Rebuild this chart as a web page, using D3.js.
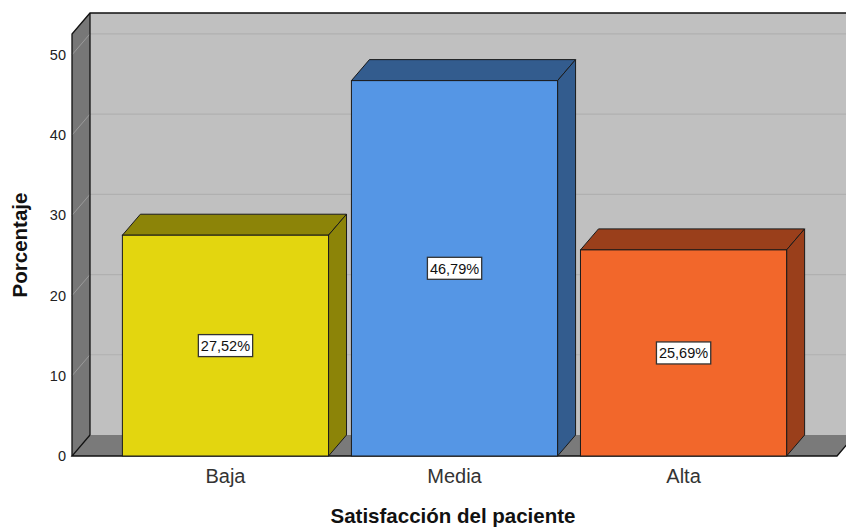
<!DOCTYPE html>
<html>
<head>
<meta charset="utf-8">
<script src="https://cdn.jsdelivr.net/npm/d3@7"></script>
<style>
  html, body { margin: 0; padding: 0; background: #fff; }
  svg { display: block; font-family: "Liberation Sans", Arial, sans-serif; }
</style>
</head>
<body>
<svg id="chart" width="846" height="532"></svg>
<script>
// Satisfacción del paciente — porcentaje por categoría
const categories = ["Baja", "Media", "Alta"];
const percentages = [27.52, 46.79, 25.69];
const valueLabels = ["27,52%", "46,79%", "25,69%"];
const frontColors = ["#e3d60f", "#5596e5", "#f2672b"];
const sideColors = ["#8c8408", "#335c8e", "#9a3f1b"];
const yTicks = [0, 10, 20, 30, 40, 50];

const svg = d3.select("#chart");

// front plane and depth offset of the 3D box
const x0 = 72, x1 = 837, yBase = 456, yTop = 34;
const dx = 18, dy = -21;

const y = d3.scaleLinear().domain([0, 52.6]).range([yBase, yTop]);
const x = d3.scaleBand().domain(categories).range([x0, x1])
  .paddingInner(0.1).paddingOuter(0.22);

const poly = pts => pts.map(p => p.join(",")).join(" ");

// back wall
svg.append("rect")
  .attr("x", x0 + dx).attr("y", yTop + dy)
  .attr("width", x1 - x0 + 10).attr("height", yBase - yTop)
  .attr("fill", "#c0c0c0");

// left wall
svg.append("polygon")
  .attr("points", poly([[x0, yBase], [x0, yTop], [x0 + dx, yTop + dy], [x0 + dx, yBase + dy]]))
  .attr("fill", "#777777");

// floor
svg.append("polygon")
  .attr("points", poly([[x0, yBase], [x1, yBase], [x1 + dx, yBase + dy], [x0 + dx, yBase + dy]]))
  .attr("fill", "#7a7a7a");

// gridlines on back and left walls
const grid = yTicks.filter(t => t > 0);
svg.append("g").selectAll("line.back").data(grid).join("line")
  .attr("x1", x0 + dx).attr("x2", 846)
  .attr("y1", d => y(d) + dy).attr("y2", d => y(d) + dy)
  .attr("stroke", "#b0b0b0").attr("stroke-width", 1.2);
svg.append("g").selectAll("line.side").data(grid).join("line")
  .attr("x1", x0).attr("x2", x0 + dx)
  .attr("y1", d => y(d)).attr("y2", d => y(d) + dy)
  .attr("stroke", "#9a9a9a").attr("stroke-width", 1);

// wall outlines
const edge = svg.append("g").attr("fill", "none").attr("stroke", "#111").attr("stroke-width", 1.3);
edge.append("polyline").attr("points", poly([[x0, yBase], [x0, yTop], [x0 + dx, yTop + dy], [846, yTop + dy]]));
edge.append("line").attr("x1", x0 + dx).attr("x2", x0 + dx).attr("y1", yTop + dy).attr("y2", yBase + dy);
edge.append("polyline").attr("points", poly([[x0 + dx, yBase + dy], [x0, yBase], [x1, yBase], [x1 + dx, yBase + dy]]));

// y axis tick labels
svg.append("g").selectAll("text").data(yTicks).join("text")
  .attr("x", x0 - 6).attr("y", d => y(d)).attr("dy", "0.35em")
  .attr("text-anchor", "end").attr("font-size", 14.5).attr("fill", "#222")
  .text(d => d);

// bars
const bars = svg.append("g").selectAll("g").data(categories).join("g");
bars.each(function (c, i) {
  const g = d3.select(this);
  const bx = x(c), bw = x.bandwidth(), top = y(percentages[i]);
  g.append("polygon")
    .attr("points", poly([[bx, top], [bx + dx, top + dy], [bx + bw + dx, top + dy], [bx + bw, top]]))
    .attr("fill", sideColors[i]).attr("stroke", "#1a1a1a").attr("stroke-width", 1);
  g.append("polygon")
    .attr("points", poly([[bx + bw, top], [bx + bw + dx, top + dy], [bx + bw + dx, yBase + dy], [bx + bw, yBase]]))
    .attr("fill", sideColors[i]).attr("stroke", "#1a1a1a").attr("stroke-width", 1);
  g.append("rect")
    .attr("x", bx).attr("y", top).attr("width", bw).attr("height", yBase - top)
    .attr("fill", frontColors[i]).attr("stroke", "#1a1a1a").attr("stroke-width", 1);

  // value label box in the middle of the bar
  const cy = y(percentages[i] / 2), cx = bx + bw / 2;
  const t = g.append("text")
    .attr("x", cx).attr("y", cy).attr("dy", "0.36em")
    .attr("text-anchor", "middle").attr("font-size", 14.5).attr("fill", "#111")
    .text(valueLabels[i]);
  const bb = t.node().getBBox();
  g.insert("rect", "text")
    .attr("x", bb.x - 2.5).attr("y", cy - 11).attr("width", bb.width + 5).attr("height", 22)
    .attr("fill", "#fff").attr("stroke", "#333").attr("stroke-width", 1.3);
});

// category labels
svg.append("g").selectAll("text").data(categories).join("text")
  .attr("x", d => x(d) + x.bandwidth() / 2).attr("y", 483)
  .attr("text-anchor", "middle").attr("font-size", 20).attr("fill", "#333")
  .text(d => d);

// axis titles
svg.append("text")
  .attr("x", 453).attr("y", 523).attr("text-anchor", "middle")
  .attr("font-size", 20.5).attr("font-weight", "bold").attr("fill", "#111")
  .text("Satisfacción del paciente");
svg.append("text")
  .attr("transform", "translate(27,245) rotate(-90)").attr("text-anchor", "middle")
  .attr("font-size", 20.5).attr("font-weight", "bold").attr("fill", "#111")
  .text("Porcentaje");
</script>
</body>
</html>
